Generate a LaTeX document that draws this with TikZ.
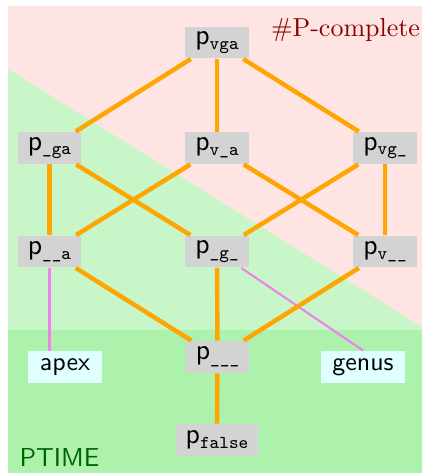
\documentclass[tikz,border=0pt]{standalone}
\usepackage{tikz}
\definecolor{bgpink}{RGB}{255,228,228}
\definecolor{tgreen}{RGB}{200,246,200}
\definecolor{bgreen}{RGB}{172,242,172}
\definecolor{lgray}{RGB}{211,211,211}
\definecolor{lcyan}{RGB}{224,255,255}
\definecolor{orng}{RGB}{255,165,0}
\definecolor{viol}{RGB}{238,130,238}
\definecolor{dred}{RGB}{139,0,0}
\definecolor{dgreen}{RGB}{0,100,0}
\newcommand{\pn}[1]{{\fontsize{11}{13}\selectfont\sffamily p}\raisebox{-1.8pt}{\fontsize{7}{8}\selectfont\ttfamily #1}}
\begin{document}
\begin{tikzpicture}[x=0.385pt,y=-0.385pt,
  pnode/.style={fill=lgray,inner xsep=3.9pt,inner ysep=0pt,minimum height=12.3pt,font=\sffamily},
  leaf/.style={fill=lcyan,inner xsep=4.5pt,inner ysep=0pt,minimum height=12.3pt,font=\sffamily},
  edge/.style={draw=orng,line width=1.7pt},
  tie/.style={draw=viol,line width=0.8pt}]
\useasboundingbox (0,0) rectangle (422,473);
% backgrounds
\fill[bgpink] (8,6) rectangle (422,473);
\fill[tgreen] (8,69) -- (422,327) -- (422,473) -- (8,473) -- cycle;
\fill[bgreen] (8,330) rectangle (422,473);
% labels
\node[anchor=base east,inner sep=0pt,text=dred] (pc) at (420.5,37) {\#P-complete};
\node[anchor=base west,inner sep=0pt,text=dgreen,font=\sffamily] (pt) at (19,466) {PTIME};
% nodes
\node[pnode] (vga) at (217,42.5) {\pn{vga}};
\node[pnode] (ga) at (49.5,148) {\pn{\_ga}};
\node[pnode] (va) at (217,148) {\pn{v\_a}};
\node[pnode] (vg) at (385,148) {\pn{vg\_}};
\node[pnode] (a) at (49.5,251.5) {\pn{\_\_a}};
\node[pnode] (g) at (217,251.5) {\pn{\_g\_}};
\node[pnode] (v) at (385,251.5) {\pn{v\_\_}};
\node[pnode] (n) at (217.5,357) {\pn{\_\_\_}};
\node[pnode] (f) at (217,440) {\pn{false}};
\node[leaf] (apex) at (65,367) {apex};
\node[leaf] (genus) at (363,367) {genus};
% connectors
\path[tie] (a.south) -- (a.south |- apex.north);
\path[tie] (g) -- (genus.north);
\path[edge] (vga) -- (ga);
\path[edge] (vga) -- (va);
\path[edge] (vga) -- (vg);
\path[edge] (ga) -- (a);
\path[edge] (ga) -- (g);
\path[edge] (va) -- (a);
\path[edge] (va) -- (v);
\path[edge] (vg) -- (g);
\path[edge] (vg) -- (v);
\path[edge] (a) -- (n);
\path[edge] (g) -- (n);
\path[edge] (v) -- (n);
\path[edge] (n) -- (f);
\end{tikzpicture}
\end{document}
